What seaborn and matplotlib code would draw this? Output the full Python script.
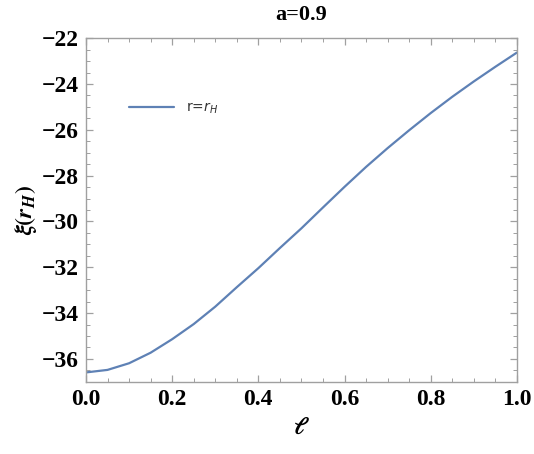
import numpy as np
import pandas as pd
import matplotlib
matplotlib.use("Agg")
import matplotlib.pyplot as plt
import seaborn as sns
from matplotlib.ticker import MultipleLocator

# values
ell = [0.0, 0.05, 0.1, 0.15, 0.2, 0.25, 0.3, 0.35, 0.4, 0.45, 0.5,
       0.55, 0.6, 0.65, 0.7, 0.75, 0.8, 0.85, 0.9, 0.95, 1.0]
xi_rH = [-36.59, -36.48, -36.19, -35.73, -35.14, -34.48, -33.72, -32.87, -32.04, -31.16, -30.30,
         -29.39, -28.49, -27.62, -26.80, -26.02, -25.27, -24.56, -23.89, -23.25, -22.63]
series_label = "r=$r_H$"
title = "a=0.9"

sns.set_style("ticks")
plt.rcParams["font.family"] = ["Liberation Serif", "DejaVu Serif"]
plt.rcParams["text.color"] = "black"
plt.rcParams["xtick.labelcolor"] = "black"
plt.rcParams["ytick.labelcolor"] = "black"
plt.rcParams["axes.labelcolor"] = "black"

df = pd.DataFrame({"ell": ell, "xi": xi_rH})

fig, ax = plt.subplots(figsize=(5.34, 4.54), dpi=100)
fig.subplots_adjust(left=0.161, right=0.968, top=0.916, bottom=0.159)

sns.lineplot(data=df, x="ell", y="xi", ax=ax, color="#5E81B5", linewidth=1.6,
             label=series_label)

ax.set_xlim(0, 1)
ax.set_ylim(-37, -22)
ax.xaxis.set_major_locator(MultipleLocator(0.2))
ax.xaxis.set_minor_locator(MultipleLocator(0.05))
ax.yaxis.set_major_locator(MultipleLocator(2))
ax.yaxis.set_minor_locator(MultipleLocator(0.5))
ax.xaxis.set_major_formatter(lambda v, p: f"{v:.1f}")
ax.yaxis.set_major_formatter(lambda v, p: f"\u2212{abs(v):.0f}" if v < 0 else f"{v:.0f}")

gray = "#a0a0a0"
for s in ax.spines.values():
    s.set_color(gray)
    s.set_linewidth(1.0)
ax.tick_params(which="both", direction="in", top=True, right=True, color=gray,
               labelsize=17, pad=5, labelcolor="black")
ax.tick_params(which="major", length=5, width=0.9)
ax.tick_params(which="minor", length=3, width=0.7)
for lab in ax.get_xticklabels() + ax.get_yticklabels():
    lab.set_fontweight("bold")

ax.set_title(title, fontsize=16, fontweight="bold", pad=13, color="black")
ax.set_xlabel(r"$\mathbfit{\ell}$", fontsize=17, math_fontfamily="stix", labelpad=6)
ax.set_ylabel(r"$\mathbfit{\xi}\mathbf{(}\mathbfit{r}_{\mathbfit{H}}\mathbf{)}$",
              fontsize=17, math_fontfamily="stix", labelpad=2)

leg = ax.legend(loc="upper left", bbox_to_anchor=(0.07, 0.855), frameon=False,
                handlelength=3.3, prop={"family": "DejaVu Sans", "size": 10})
for t in leg.get_texts():
    t.set_color("#333333")

fig.savefig("out.png", dpi=100)
